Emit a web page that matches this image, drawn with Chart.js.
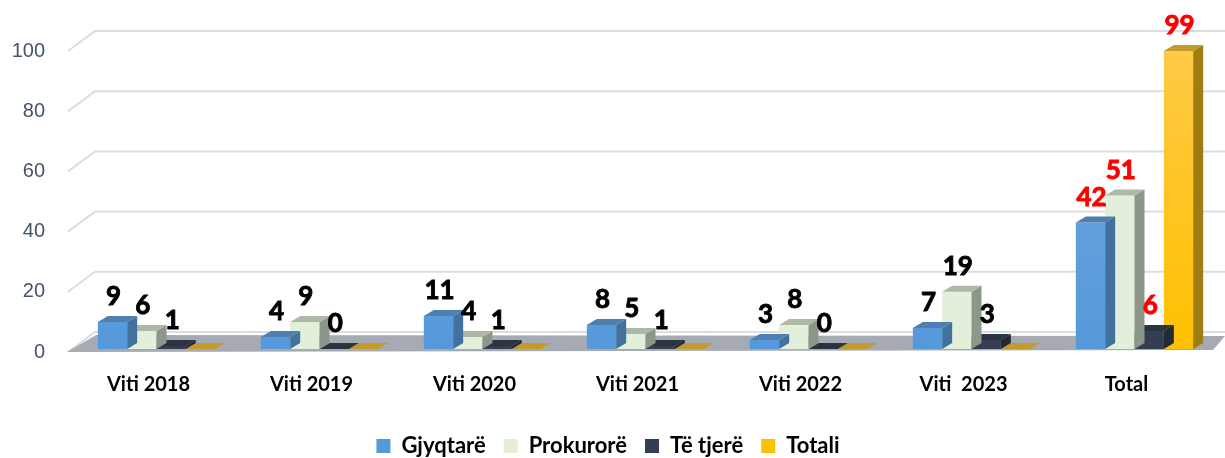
<!DOCTYPE html>
<html>
<head>
<meta charset="utf-8">
<script src="https://cdn.jsdelivr.net/npm/chart.js@4.4.1/dist/chart.umd.min.js"></script>
<style>
  html, body { margin: 0; padding: 0; background: #fff; }
  #wrap { width: 1225px; height: 458px; }
</style>
</head>
<body>
<div id="wrap"><canvas id="chart"></canvas></div>
<script>
const categories = ["Viti 2018", "Viti 2019", "Viti 2020", "Viti 2021", "Viti 2022", "Viti  2023", "Total"];
const gjyqtare = [9, 4, 11, 8, 3, 7, 42];
const prokurore = [6, 9, 4, 5, 8, 19, 51];
const teTjere = [1, 0, 1, 1, 0, 3, 6];
const totali = [0, 0, 0, 0, 0, 0, 99];
const yTicks = [0, 20, 40, 60, 80, 100];

// front / side / top colours per series
const frontTop = ["#75a7de", "#e2efda", "#333f50", "#ffca47"];
const frontBottom = ["#5599da", "#e2efda", "#333f50", "#ffc000"];
const sideColors = ["#41719c", "#8c978a", "#222a35", "#a07d12"];
const topColors = ["#4f7fae", "#adb8a6", "#2a3441", "#c49a2c"];
const DX = 10, DY = 6;

function gradientFor(i) {
    return (c) => {
        const area = c.chart.chartArea;
        if (!area) return frontBottom[i];
        const g = c.chart.ctx.createLinearGradient(0, area.top, 0, area.bottom);
        g.addColorStop(0, frontTop[i]);
        g.addColorStop(1, frontBottom[i]);
        return g;
    };
}

function poly(ctx, pts, color) {
    ctx.beginPath();
    ctx.moveTo(pts[0][0], pts[0][1]);
    for (let k = 1; k < pts.length; k++) ctx.lineTo(pts[k][0], pts[k][1]);
    ctx.closePath();
    ctx.fillStyle = color;
    ctx.fill();
}

// back wall gridlines + floor
const wallPlugin = {
    id: "wall",
    beforeDatasetsDraw(chart) {
        const ctx = chart.ctx;
        const area = chart.chartArea;
        const y = chart.scales.y;
        ctx.save();
        ctx.strokeStyle = "#d9dde5";
        ctx.lineWidth = 2;
        yTicks.forEach(v => {
            const py = y.getPixelForValue(v);
            ctx.beginPath();
            ctx.moveTo(area.left - 7, py + 3);
            ctx.lineTo(area.left + 20, py - 17);
            ctx.lineTo(chart.width, py - 17);
            ctx.stroke();
        });
        const base = y.getPixelForValue(0);
        poly(ctx, [
            [area.left - 8, base + 3],
            [area.right - 3, base + 1],
            [area.right + 9, base - 13],
            [area.left + 21, base - 14]
        ], "#a6abb3");
        ctx.restore();
    }
};

// side and top faces for each bar
const boxPlugin = {
    id: "box3d",
    afterDatasetDraw(chart, args) {
        const ctx = chart.ctx;
        const i = args.index;
        ctx.save();
        args.meta.data.forEach(el => {
            const p = el.getProps(["x", "y", "base", "width"], true);
            const l = p.x - p.width / 2, r = p.x + p.width / 2;
            if (p.base - p.y > 0.5) {
                poly(ctx, [[r, p.y], [r + DX, p.y - DY], [r + DX, p.base - DY], [r, p.base]], sideColors[i]);
            }
            poly(ctx, [[l, p.y], [l + DX, p.y - DY], [r + DX, p.y - DY], [r, p.y]], topColors[i]);
        });
        ctx.restore();
    }
};

const labelPlugin = {
    id: "valueLabels",
    afterDatasetsDraw(chart) {
        const ctx = chart.ctx;
        ctx.save();
        ctx.font = "bold 26px Lato";
        ctx.textAlign = "center";
        ctx.textBaseline = "middle";
        ctx.lineWidth = 0.9;
        chart.data.datasets.forEach((ds, i) => {
            chart.getDatasetMeta(i).data.forEach((el, j) => {
                const v = ds.data[j];
                if (i === 3 && v === 0) return;
                const col = j === categories.length - 1 ? "#ff0000" : "#000000";
                ctx.fillStyle = col;
                ctx.strokeStyle = col;
                ctx.fillText(String(v), el.x + 1, el.y - 25);
                ctx.strokeText(String(v), el.x + 1, el.y - 25);
            });
        });
        ctx.restore();
    }
};

new Chart(document.getElementById("chart"), {
    type: "bar",
    data: {
        labels: categories,
        datasets: [
            { label: "Gjyqtarë", data: gjyqtare, backgroundColor: gradientFor(0) },
            { label: "Prokurorë", data: prokurore, backgroundColor: gradientFor(1) },
            { label: "Të tjerë", data: teTjere, backgroundColor: gradientFor(2) },
            { label: "Totali", data: totali, backgroundColor: gradientFor(3) }
        ]
    },
    options: {
        responsive: true,
        maintainAspectRatio: false,
        animation: false,
        layout: { padding: { top: 48, right: 9, bottom: -9, left: 0 } },
        datasets: { bar: { categoryPercentage: 0.72, barPercentage: 1 } },
        scales: {
            x: {
                grid: { display: false, drawTicks: false },
                border: { display: false },
                afterFit(scale) { scale.height -= 4; },
                ticks: {
                    padding: 24,
                    labelOffset: -8,
                    color: "#000",
                    font: { family: "Lato", weight: "bold", size: 20 }
                }
            },
            y: {
                min: 0,
                max: 100,
                grid: { display: false, drawTicks: false },
                border: { display: false },
                afterFit(scale) { scale.width = 75; },
                ticks: {
                    stepSize: 20,
                    padding: 30,
                    labelOffset: 3,
                    color: "#44546a",
                    font: { family: "Liberation Sans", size: 20 }
                }
            }
        },
        plugins: {
            legend: {
                position: "bottom",
                labels: {
                    boxWidth: 14,
                    boxHeight: 14,
                    padding: 18,
                    color: "#000",
                    font: { family: "Lato", weight: "bold", size: 22 },
                    generateLabels(chart) {
                        return chart.data.datasets.map((ds, i) => ({
                            text: ds.label,
                            fillStyle: frontBottom[i],
                            strokeStyle: frontBottom[i],
                            lineWidth: 0,
                            datasetIndex: i
                        }));
                    }
                }
            },
            tooltip: { enabled: false }
        }
    },
    plugins: [wallPlugin, boxPlugin, labelPlugin]
});
</script>
</body>
</html>
